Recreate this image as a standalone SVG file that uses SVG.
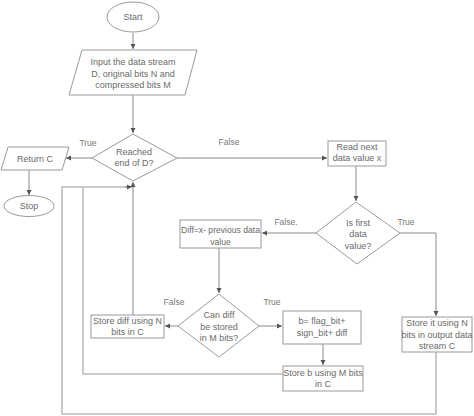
<svg xmlns="http://www.w3.org/2000/svg" width="474" height="416" viewBox="0 0 474 416">
<defs>
<marker id="ah" markerWidth="6" markerHeight="6" refX="5" refY="3" orient="auto" markerUnits="userSpaceOnUse">
<path d="M0,0.5 L5,3 L0,5.5 Z" fill="#555"/>
</marker>
<style>
.shape{fill:#fff;stroke:#9a9a9a;stroke-width:1}
.ln{fill:none;stroke:#8a8a8a;stroke-width:1}
.lo{fill:none;stroke:#bcbcbc;stroke-width:1.6}
text{font-family:"Liberation Sans",Arial,sans-serif;font-size:9px;fill:#6a6a6a;text-anchor:middle}
.lbl{font-size:8.5px;fill:#777}
</style>
</defs>
<rect width="474" height="416" fill="#fff"/>
<g id="connectors">
<path class="ln" d="M133,33 V49" marker-end="url(#ah)"/>
<path class="ln" d="M133,95 V133" marker-end="url(#ah)"/>
<path class="ln" d="M92,158 H66" marker-end="url(#ah)"/>
<path class="ln" d="M29,170 V195" marker-end="url(#ah)"/>
<path class="ln" d="M177,158 H327" marker-end="url(#ah)"/>
<path class="ln" d="M356,166 V201" marker-end="url(#ah)"/>
<path class="ln" d="M316,233 H262" marker-end="url(#ah)"/>
<path class="ln" d="M400,233 H436 V316" marker-end="url(#ah)"/>
<path class="ln" d="M219,248 V293" marker-end="url(#ah)"/>
<path class="ln" d="M178,326 H165" marker-end="url(#ah)"/>
<path class="ln" d="M259,326 H282" marker-end="url(#ah)"/>
<path class="ln" d="M323,344 V365" marker-end="url(#ah)"/>
<path class="ln" d="M133,315 V182" marker-end="url(#ah)"/>
<path class="lo" d="M283,374 H83 V187"/>
<path class="lo" d="M436,352 V414 H62 V187 H131"/>
<path class="ln" d="M125,187 H132" marker-end="url(#ah)"/>
<text class="lbl" x="88" y="146">True</text>
<text class="lbl" x="229" y="145">False</text>
<text class="lbl" x="286" y="225">False.</text>
<text class="lbl" x="406" y="225">True</text>
<text class="lbl" x="174" y="305">False</text>
<text class="lbl" x="272" y="305">True</text>
</g>
<g id="start">
<ellipse class="shape" cx="133" cy="17" rx="26" ry="15"/>
<text x="133" y="20">Start</text>
</g>
<g id="input">
<polygon class="shape" points="82,50 197,50 185,95 69,95"/>
<text x="133" y="65">Input the data stream</text>
<text x="133" y="76.5">D, original bits N and</text>
<text x="133" y="88">compressed bits M</text>
</g>
<g id="reached">
<polygon class="shape" points="133,134 177,158 133,181 92,158"/>
<text x="134" y="155">Reached</text>
<text x="134" y="166">end of D?</text>
</g>
<g id="returnc">
<polygon class="shape" points="8,147 69,147 62,170 1,170"/>
<text x="35" y="161.5">Return C</text>
</g>
<g id="stop">
<ellipse class="shape" cx="29" cy="206" rx="25" ry="10.5"/>
<text x="29" y="209">Stop</text>
</g>
<g id="readnext">
<rect class="shape" x="328" y="141" width="58" height="25"/>
<text x="357" y="150">Read next</text>
<text x="357" y="161">data value x</text>
</g>
<g id="isfirst">
<polygon class="shape" points="356,202 400,233 357,264 316,233"/>
<text x="358" y="226">Is first</text>
<text x="358" y="237">data</text>
<text x="358" y="249">value?</text>
</g>
<g id="diff">
<rect class="shape" x="180" y="220" width="81" height="28"/>
<text x="220.5" y="233" style="font-size:8.6px">Diff=x- previous data</text>
<text x="220.5" y="245" style="font-size:8.6px">value</text>
</g>
<g id="candiff">
<polygon class="shape" points="219,294 259,326 219,357 178,326"/>
<text x="219" y="318">Can diff</text>
<text x="219" y="330">be stored</text>
<text x="219" y="341">in M bits?</text>
</g>
<g id="storediff">
<rect class="shape" x="91" y="315" width="73" height="23"/>
<text x="127.5" y="324">Store diff using N</text>
<text x="127.5" y="335">bits in C</text>
</g>
<g id="bbox">
<rect class="shape" x="283" y="311" width="78" height="33"/>
<text x="322" y="324">b= flag_bit+</text>
<text x="322" y="336">sign_bit+ diff</text>
</g>
<g id="storeb">
<rect class="shape" x="283" y="366" width="80" height="25"/>
<text x="323" y="376">Store b using M bits</text>
<text x="323" y="387">in C</text>
</g>
<g id="storeit">
<rect class="shape" x="402" y="317" width="70" height="35"/>
<text x="437" y="326">Store it using N</text>
<text x="437" y="338">bits in output data</text>
<text x="437" y="349">stream C</text>
</g>
</svg>
